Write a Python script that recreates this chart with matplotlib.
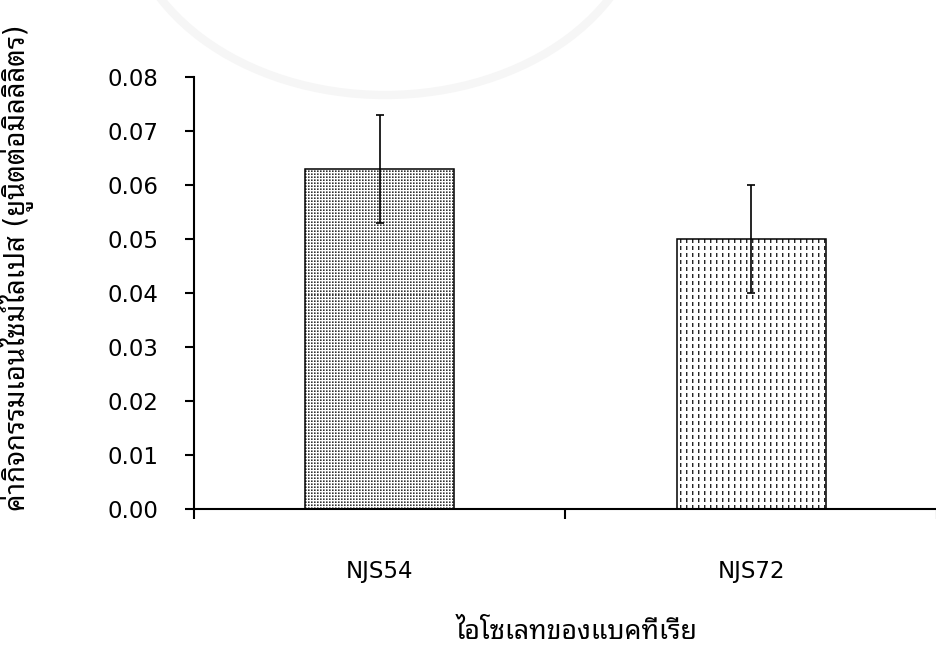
import numpy as np
import matplotlib
matplotlib.use("Agg")
import matplotlib.pyplot as plt
from matplotlib import font_manager
from matplotlib.ft2font import FT2Font
from matplotlib.patches import Arc

# Data
isolates = ["NJS54", "NJS72"]
activity = [0.063, 0.050]
activity_sd = [0.010, 0.010]
y_ticks = [0.00, 0.01, 0.02, 0.03, 0.04, 0.05, 0.06, 0.07, 0.08]
x_title = "ไอโซเลทของแบคทีเรีย"
y_title = "ค่ากิจกรรมเอนไซม์ไลเปส (ยูนิตต่อมิลลิลิตร)"


def fonts_with_thai():
    found = []
    for entry in font_manager.fontManager.ttflist:
        try:
            cmap = FT2Font(entry.fname).get_charmap()
        except Exception:
            continue
        if 0x0E01 in cmap and entry.name not in found:
            found.append(entry.name)
    preferred = ["Tahoma", "Leelawadee UI", "Noto Sans Thai Looped", "Loma",
                 "Garuda", "Tlwg Typo", "Norasi", "Kinnari",
                 "Noto Sans Thai", "Noto Sans Thai UI", "Sarabun"]
    found.sort(key=lambda n: preferred.index(n) if n in preferred else 99)
    return found


families = ["DejaVu Sans"] + fonts_with_thai()
plt.rcParams["font.family"] = families

W_PX, H_PX = 937, 655
fig = plt.figure(figsize=(W_PX / 100, H_PX / 100), dpi=100)

# faint watermark arc in the page background
fig.add_artist(Arc((385 / W_PX, 1 + 100 / H_PX), 520 / W_PX, 390 / H_PX,
                   theta1=180, theta2=360, transform=fig.transFigure,
                   color="#f6f6f6", lw=6, zorder=0))

ax_left, ax_bottom = 194 / W_PX, 146 / H_PX
ax_w, ax_h = (W_PX - 194) / W_PX, 432 / H_PX
ax = fig.add_axes([ax_left, ax_bottom, ax_w, ax_h])
ax.patch.set_alpha(0)

n = len(isolates)
pos = np.arange(n) + 0.5
ax.set_xlim(0, n)
ax.set_ylim(y_ticks[0], y_ticks[-1])

bars = ax.bar(pos, activity, width=0.4, facecolor="none", edgecolor="black",
              linewidth=1.1, zorder=3)
ax.errorbar(pos, activity, yerr=activity_sd, fmt="none", ecolor="black",
            elinewidth=1.2, capsize=3, capthick=1.2, zorder=4)

# pixel-level fill textures for the two bars
pw, ph = int(round(ax_w * W_PX)), int(round(ax_h * H_PX))
yy, xx = np.mgrid[0:ph, 0:pw]

tile_dots = np.array([[0.2, 0.5, 1.0],
                      [0.5, 0.7, 1.0],
                      [1.0, 1.0, 1.0]])
tex_dots = tile_dots[yy % 3, xx % 3]

tex_dash = np.ones((ph, pw))
cx, cy = xx % 6, yy % 7
tex_dash[(cx == 0) & (cy < 4)] = 0.15
tex_dash[(cx == 1) & (cy < 4)] = 0.65

for bar, tex in zip(bars, [tex_dots, tex_dash]):
    im = ax.imshow(tex, cmap="gray", vmin=0, vmax=1, interpolation="nearest",
                   extent=(0, n, y_ticks[0], y_ticks[-1]), origin="lower",
                   aspect="auto", zorder=2)
    im.set_clip_path(bar)

ax.set_xlim(0, n)
ax.set_ylim(y_ticks[0], y_ticks[-1])

for side in ["top", "right"]:
    ax.spines[side].set_visible(False)
for side in ["left", "bottom"]:
    ax.spines[side].set_linewidth(1.5)
    ax.spines[side].set_color("black")

ax.set_yticks(y_ticks)
ax.set_yticklabels([f"{v:.2f}" for v in y_ticks])
ax.tick_params(axis="y", which="major", length=6.5, width=1.5, pad=19,
               labelsize=16.5, colors="black")

ax.set_xticks(np.arange(n + 1))
ax.set_xticklabels([])
ax.set_xticks(pos, minor=True)
ax.set_xticklabels(isolates, minor=True)
ax.tick_params(axis="x", which="major", length=7, width=1.5, direction="out")
ax.tick_params(axis="x", which="minor", length=0, pad=37, labelsize=16.5)

ax.set_xlabel(x_title, fontsize=19.2)
ax.xaxis.set_label_coords((577 / W_PX - ax_left) / ax_w, (509 - 632) / 432)
ax.xaxis.label.set_va("center")

ax.set_ylabel(y_title, fontsize=19.8)
ax.yaxis.set_label_coords((16 - 194) / (W_PX - 194), (509 - 268) / 432)
ax.yaxis.label.set_va("center")

fig.savefig("out.png", dpi=100)
